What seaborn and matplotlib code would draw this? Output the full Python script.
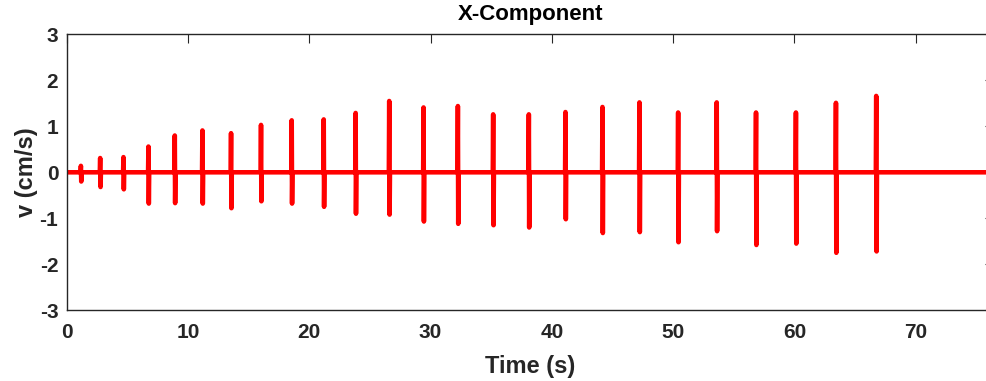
import numpy as np
import pandas as pd
import matplotlib
matplotlib.use("Agg")
import matplotlib.pyplot as plt
import seaborn as sns

# Data
spike_times = [1.17, 2.76, 4.68, 6.74, 8.91, 11.19, 13.55, 16.02, 18.55, 21.19,
               23.82, 26.59, 29.42, 32.25, 35.16, 38.10, 41.12, 44.17, 47.22,
               50.41, 53.59, 56.83, 60.12, 63.42, 66.74]
spike_pos = [0.14, 0.31, 0.33, 0.56, 0.80, 0.91, 0.85, 1.03, 1.13, 1.15,
             1.29, 1.55, 1.41, 1.44, 1.26, 1.26, 1.31, 1.42, 1.52,
             1.30, 1.52, 1.30, 1.30, 1.51, 1.66]
spike_neg = [-0.20, -0.32, -0.37, -0.68, -0.67, -0.68, -0.78, -0.63, -0.68, -0.75,
             -0.90, -0.92, -1.07, -1.12, -1.15, -1.20, -1.02, -1.32, -1.30,
             -1.52, -1.28, -1.58, -1.55, -1.75, -1.72]
t_end = 76.45

sns.set_theme(style="white")
plt.rcParams['font.family'] = ['Liberation Sans', 'DejaVu Sans']
plt.rcParams['axes.unicode_minus'] = False

# Build the polyline from the spike list
ts, vs = [0.0], [0.0]
for t, p, n in zip(spike_times, spike_pos, spike_neg):
    ts += [t - 0.03, t, t + 0.03, t + 0.06]
    vs += [0.0, p, n, 0.0]
ts.append(t_end)
vs.append(0.0)
df = pd.DataFrame({"Time (s)": ts, "v (cm/s)": vs})

fig = plt.figure(figsize=(9.87, 3.81), dpi=100)
ax = fig.add_axes([66.7 / 987, (381 - 310.3) / 381, (994 - 66.7) / 987, (310.3 - 34.3) / 381])
sns.lineplot(data=df, x="Time (s)", y="v (cm/s)", ax=ax, color="#ff0000",
             linewidth=3.3, estimator=None, sort=False)

ax.set_xlim(0, t_end)
ax.set_ylim(-3, 3)
ax.set_xticks(range(0, 71, 10))
ax.set_yticks(range(-3, 4))
ax.set_xlabel("Time (s)", fontsize=17, fontweight="bold", labelpad=9, color="#262626")
ax.set_ylabel("v (cm/s)", fontsize=17, fontweight="bold", labelpad=1.5, color="#262626")
ax.set_title("X-Component", fontsize=16, fontweight="bold", pad=10, color="#000000")
ax.tick_params(direction="in", length=6.5, width=0.8, color="#262626",
               labelsize=15, top=True, right=True)
ax.tick_params(axis="x", pad=9.5)
ax.tick_params(axis="y", pad=6)
for lab in ax.get_xticklabels() + ax.get_yticklabels():
    lab.set_fontweight("bold")
    lab.set_color("#262626")
for s in ax.spines.values():
    s.set_color("#262626")
    s.set_linewidth(1.0)
    s.set_visible(True)

fig.savefig("out.png", dpi=100)
